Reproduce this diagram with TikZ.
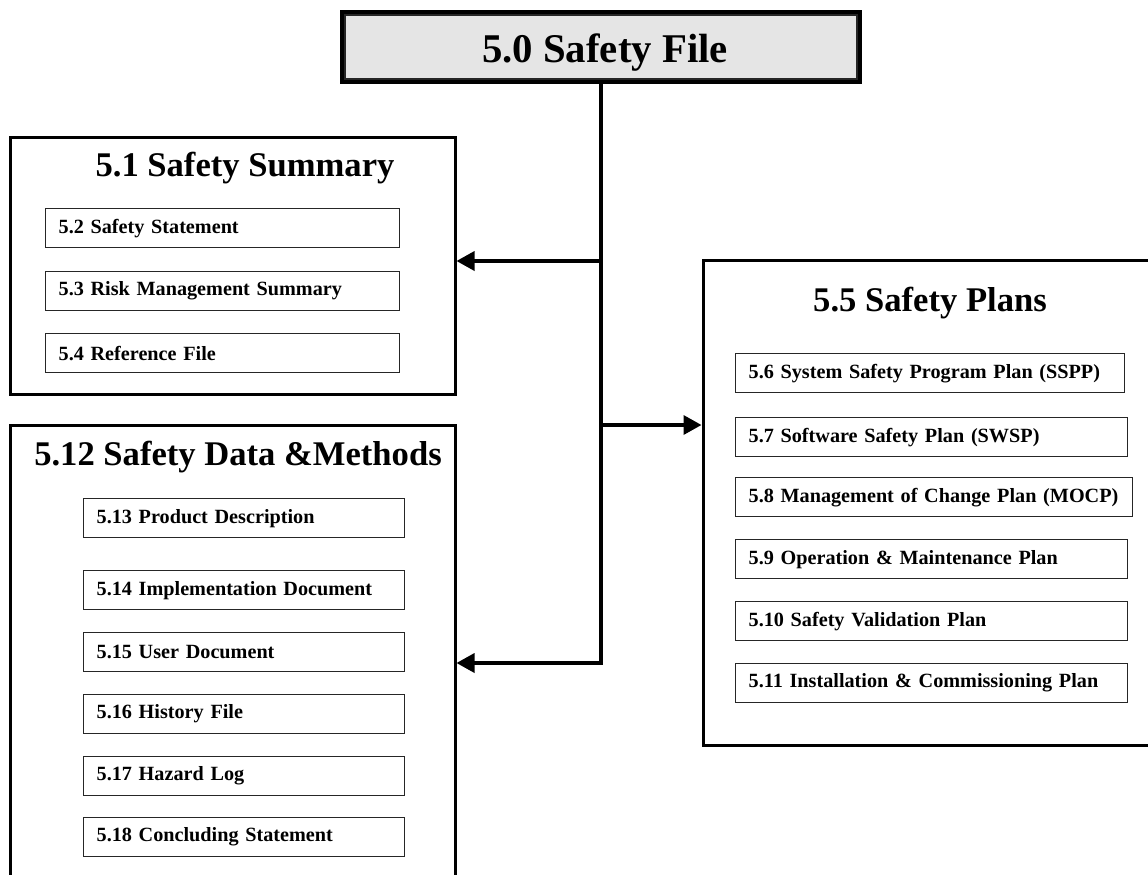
\documentclass[tikz,border=0pt]{standalone}
\usepackage{fontspec}
\setmainfont{Liberation Serif}
\usetikzlibrary{positioning, arrows.meta, fit, calc}

\begin{document}
\begin{tikzpicture}[x=1pt, y=-1pt,
  bigbox/.style={draw, line width=3pt, inner sep=0pt},
  itembox/.style={draw=black!85, line width=1.3pt, inner xsep=13pt, inner ysep=0pt,
    minimum height=39pt, text width=#1, align=left, anchor=north west,
    font=\fontsize{20.2}{24}\selectfont\bfseries},
  boxtitle/.style={anchor=base, font=\fontsize{34.6}{40}\selectfont\bfseries},
  link/.style={line width=3.5pt},
  arrowlink/.style={link, -{Triangle[length=18pt, width=19pt]}}]
\useasboundingbox (0,0) rectangle (1148,875);
\clip (0,0) rectangle (1148,875);

% top: safety file, double frame
\node[draw, line width=4pt, fill=gray!60, inner sep=0pt, fit={(342,12) (860,82)}] (file) {};
\draw[black!85, line width=1.2pt, fill=gray!20]
  ($(file.north west)+(5,5)$) rectangle ($(file.south east)+(-5,-5)$);
\node[anchor=base, font=\fontsize{40.8}{46}\selectfont\bfseries] (filetitle) at (605,63) {5.0 Safety File};

% safety summary
\node[bigbox, fit={(10,137) (455,394)}] (summary) {};
\node[boxtitle] (summarytitle) at (245,176) {5.1 Safety Summary};
\node[itembox=328pt] (statement) at (45,208) {5.2 Safety Statement};
\node[itembox=328pt] (riskmgmt) at (45,271) {5.3 Risk Management Summary};
\node[itembox=328pt] (reffile) at (45,333) {5.4 Reference File};

% safety plans
\node[bigbox, fit={(703,260) (1175,745)}] (plans) {};
\node[boxtitle] (planstitle) at (930,311) {5.5 Safety Plans};
\node[itembox=363pt] (sspp) at (735,353) {5.6 System Safety Program Plan (SSPP)};
\node[itembox=366pt] (swsp) at (735,417) {5.7 Software Safety Plan (SWSP)};
\node[itembox=371pt] (mocp) at (735,477) {5.8 Management of Change Plan (MOCP)};
\node[itembox=366pt] (opmaint) at (735,539) {5.9 Operation \& Maintenance Plan};
\node[itembox=366pt] (validation) at (735,601) {5.10 Safety Validation Plan};
\node[itembox=366pt] (install) at (735,663) {5.11 Installation \& Commissioning Plan};

% safety data and methods
\node[bigbox, fit={(10,425) (455,900)}] (datamethods) {};
\node[boxtitle] (datatitle) at (238,465) {5.12 Safety Data \&Methods};
\node[itembox=295pt] (product) at (83,498) {5.13 Product Description};
\node[itembox=295pt] (implement) at (83,570) {5.14 Implementation Document};
\node[itembox=295pt] (userdoc) at (83,632) {5.15 User Document};
\node[itembox=295pt] (history) at (83,694) {5.16 History File};
\node[itembox=295pt] (hazard) at (83,756) {5.17 Hazard Log};
\node[itembox=295pt] (conclude) at (83,817) {5.18 Concluding Statement};

% connectors
\coordinate (jsummary) at (601,261);
\coordinate (jplans) at (601,425);
\coordinate (jdata) at (601,663);
\draw[arrowlink] (file.south) -- (jdata) -- (jdata -| datamethods.east);
\draw[arrowlink] (jsummary) -- (jsummary -| summary.east);
\draw[arrowlink] (jplans) -- (jplans -| plans.west);
\end{tikzpicture}
\end{document}
